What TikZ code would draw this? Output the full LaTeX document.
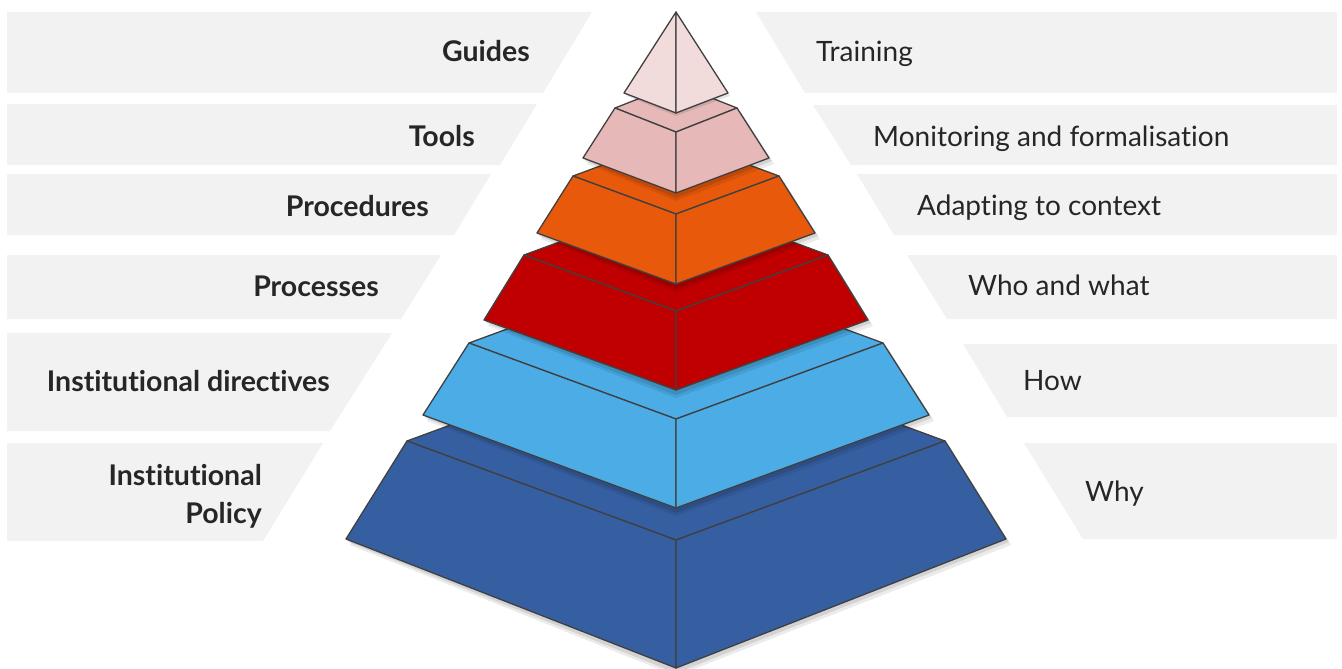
\documentclass[tikz,border=0pt]{standalone}
\usepackage{fontspec}
\setmainfont{Lato}[Ligatures={NoCommon,NoRare}]
\definecolor{band}{HTML}{F2F2F2}
\definecolor{txt}{HTML}{262626}
\definecolor{edge}{HTML}{404040}
\definecolor{ctip}{HTML}{F2DCDB}
\definecolor{ctools}{HTML}{E6B9B8}
\definecolor{cproc}{HTML}{E8590C}
\definecolor{cprocs}{HTML}{C00000}
\definecolor{cdir}{HTML}{4BACE6}
\definecolor{cpol}{HTML}{365FA2}
\tikzset{
  bandshape/.style={fill=band, draw=none},
  lefttext/.style={font=\fontsize{28.5}{38}\selectfont\bfseries, text=txt, inner sep=0pt, align=right},
  righttext/.style={font=\fontsize{28}{38}\selectfont, text=txt, inner sep=0pt, align=left},
  face/.style={draw=edge, line width=1.3pt, line join=round}
}
% #1 colour, #2 top half width, #3 top corner y, #4 top front y,
% #5 bottom half width, #6 bottom corner y, #7 bottom front y
\newcommand{\pyrlayer}[7]{%
  \fill[black, opacity=0.10] ({676-#5+2},{#6+3}) -- (676,{#7+5}) -- ({676+#5+3},{#6+3}) -- ({676+#2+3},{#3+3}) -- ({676-#2+3},{#3+3}) -- cycle;
  \fill[black, opacity=0.08] ({676-#5+4},{#6+6}) -- (676,{#7+8}) -- ({676+#5+5},{#6+6}) -- ({676+#2+5},{#3+6}) -- ({676-#2+5},{#3+6}) -- cycle;
  \filldraw[face, fill=#1] ({676-#2},#3) -- (676,#4) -- ({676+#2},#3) -- (676,{2*#3-#4}) -- cycle;
  \filldraw[face, fill=#1] ({676-#2},#3) -- (676,#4) -- (676,#7) -- ({676-#5},#6) -- cycle;
  \filldraw[face, fill=#1] (676,#4) -- ({676+#2},#3) -- ({676+#5},#6) -- (676,#7) -- cycle;
}
\begin{document}
\begin{tikzpicture}[x=1pt, y=-1pt]
\useasboundingbox (0,0) rectangle (1342,669);
\fill[white] (0,0) rectangle (1342,669);
% left bands
\fill[bandshape] (7,12) -- (592,12) -- (543,93) -- (7,93) -- cycle;
\fill[bandshape] (7,104) -- (537,104) -- (500,165) -- (7,165) -- cycle;
\fill[bandshape] (7,174) -- (491,174) -- (454,235) -- (7,235) -- cycle;
\fill[bandshape] (7,255) -- (441,255) -- (401,319) -- (7,319) -- cycle;
\fill[bandshape] (7,333) -- (392,333) -- (330,431) -- (7,431) -- cycle;
\fill[bandshape] (7,443) -- (323,443) -- (263,541) -- (7,541) -- cycle;
% right bands
\fill[bandshape] (756,12) -- (1337,12) -- (1337,93) -- (805,93) -- cycle;
\fill[bandshape] (813,105) -- (1337,105) -- (1337,165) -- (851,165) -- cycle;
\fill[bandshape] (857,174) -- (1337,174) -- (1337,235) -- (894,235) -- cycle;
\fill[bandshape] (907,255) -- (1337,255) -- (1337,319) -- (947,319) -- cycle;
\fill[bandshape] (963,344) -- (1337,344) -- (1337,417) -- (1007,417) -- cycle;
\fill[bandshape] (1024,443) -- (1337,443) -- (1337,539) -- (1083,539) -- cycle;
% pyramid layers, bottom to top
\pyrlayer{cpol}{269}{441}{540}{330}{539}{668}
\pyrlayer{cdir}{207}{343}{419}{253}{415}{508}
\pyrlayer{cprocs}{152}{255}{311}{192}{320}{390}
\pyrlayer{cproc}{103}{176}{214}{139}{233}{284}
\pyrlayer{ctools}{61}{108}{132}{93}{158}{193}
% tip
\fill[black, opacity=0.10] (627,96) -- (676,116) -- (730,96) -- (678,15) -- cycle;
\filldraw[face, fill=ctip] (676,12) -- (624,93) -- (676,113) -- cycle;
\filldraw[face, fill=ctip] (676,12) -- (676,113) -- (728,93) -- cycle;
% left labels
\node[lefttext, anchor=base east] (guides) at (530,62) {Guides};
\node[lefttext, anchor=base east] (tools) at (475,146) {Tools};
\node[lefttext, anchor=base east] (procedures) at (429,216) {Procedures};
\node[lefttext, anchor=base east] (processes) at (379,296) {Processes};
\node[lefttext, anchor=base east] (directives) at (330,391) {Institutional directives};
\node[lefttext, anchor=base east] (policy1) at (262,485) {Institutional};
\node[lefttext, anchor=base east] (policy2) at (262,523) {Policy};
% right labels
\node[righttext, anchor=base west] (training) at (816,62) {Training};
\node[righttext, anchor=base west] (monitoring) at (873,146) {Monitoring and formalisation};
\node[righttext, anchor=base west] (adapting) at (917,215) {Adapting to context};
\node[righttext, anchor=base west] (whowhat) at (968,295) {Who and what};
\node[righttext, anchor=base west] (how) at (1023,390) {How};
\node[righttext, anchor=base west] (why) at (1085,501) {Why};
\end{tikzpicture}
\end{document}
